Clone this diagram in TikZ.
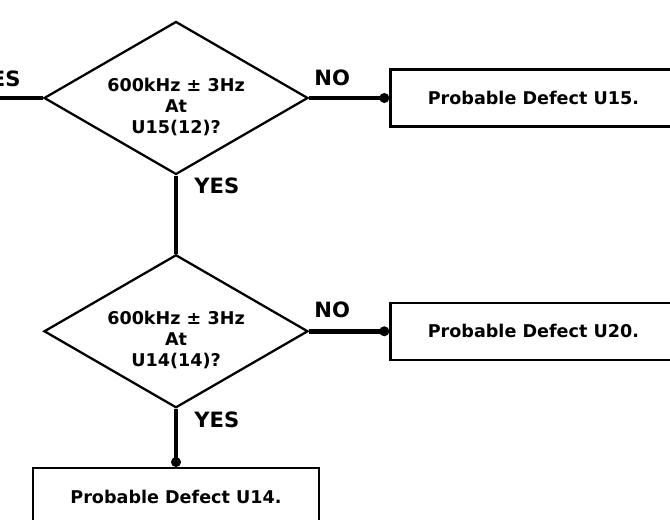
\documentclass[tikz,border=0pt]{standalone}
\usepackage{fontspec}
\setmainfont{DejaVu Sans}
\usepackage{tikz}
\usetikzlibrary{arrows.meta, positioning, shapes.geometric}

\begin{document}
\begin{tikzpicture}[
        font=\bfseries,
        node distance=15.6mm and 16mm,
        decision/.style={
            draw,
            diamond,
            line width=1.3pt,
            minimum width=52.8mm,
            minimum height=30.6mm,
            inner sep=0pt
        },
        question/.style={
            align=center,
            font=\bfseries\fontsize{10}{12}\selectfont
        },
        result/.style={
            draw,
            line width=1.4pt,
            minimum width=57.2mm,
            minimum height=11.4mm,
            font=\bfseries\fontsize{10}{12}\selectfont
        },
        wire/.style={
            -{Circle[length=5.5pt, width=5.5pt]},
            line width=2.6pt
        },
        plainwire/.style={
            line width=2.6pt
        },
        answer/.style={
            font=\bfseries\fontsize{12}{14}\selectfont,
            inner sep=0pt
        }
    ]

    \useasboundingbox (0,0) rectangle (13.4,10.4);
    \clip (0,0) rectangle (13.4,10.4);

    \node[decision] (check1) at (3.52,8.44) {};
    \node[question] (ask1) at ([yshift=-1.8mm]check1.center) {600kHz ± 3Hz\\At\\U15(12)?};
    \node[result, right=of check1] (defect15) {Probable Defect U15.};
    \node[decision, below=of check1] (check2) {};
    \node[question] (ask2) at ([yshift=-1.8mm]check2.center) {600kHz ± 3Hz\\At\\U14(14)?};
    \node[result, right=of check2] (defect20) {Probable Defect U20.};
    \node[result, below=11.6mm of check2] (defect14) {Probable Defect U14.};
    \coordinate[left=of check1] (from);

    \draw[plainwire] (from) -- (check1.west);
    \draw[wire] (check1.east) -- (defect15.west);
    \draw[plainwire] (check1.south) -- (check2.north);
    \draw[wire] (check2.east) -- (defect20.west);
    \draw[wire] (check2.south) -- (defect14.north);

    \node[answer, anchor=base east] (yes0) at ([shift={(-4.4mm,2.2mm)}]check1.west) {YES};
    \node[answer, anchor=base west] (no1) at ([shift={(1mm,2.4mm)}]check1.east) {NO};
    \node[answer, anchor=base west] (yes1) at ([shift={(3.6mm,-3.6mm)}]check1.south) {YES};
    \node[answer, anchor=base west] (no2) at ([shift={(1mm,2.8mm)}]check2.east) {NO};
    \node[answer, anchor=base west] (yes2) at ([shift={(3.6mm,-3.8mm)}]check2.south) {YES};

\end{tikzpicture}
\end{document}
